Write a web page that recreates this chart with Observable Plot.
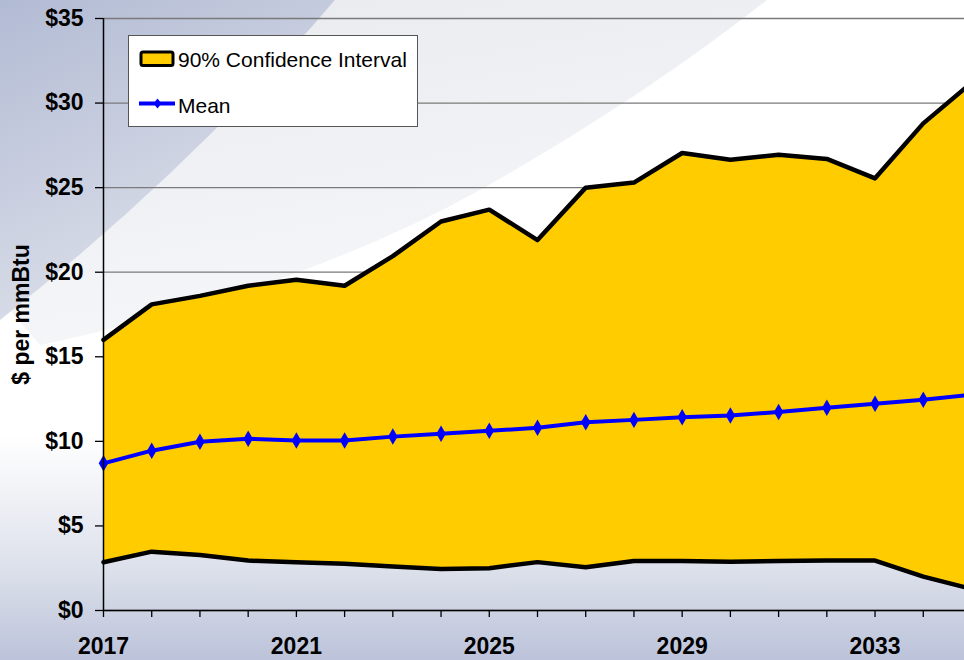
<!DOCTYPE html>
<html>
<head>
<meta charset="utf-8">
<script src="https://cdn.jsdelivr.net/npm/d3@7"></script>
<script src="https://cdn.jsdelivr.net/npm/@observablehq/plot@0.6"></script>
<style>
  html, body { margin: 0; padding: 0; overflow: hidden; background: #fff; }
  #wrap { position: relative; width: 964px; height: 660px; overflow: hidden; font-family: "Liberation Sans", Arial, sans-serif; }
  #bg, #legend { position: absolute; left: 0; top: 0; }
  #chart { position: absolute; left: 0; top: 0; }
  #chart svg { overflow: hidden; }
</style>
</head>
<body>
<div id="wrap">
  <svg id="bg" width="964" height="660">
    <defs>
      <linearGradient id="base" x1="0" y1="0" x2="0" y2="1">
        <stop offset="0" stop-color="#ffffff"/>
        <stop offset="0.66" stop-color="#ffffff"/>
        <stop offset="0.86" stop-color="#dde1eb"/>
        <stop offset="1" stop-color="#bcc3da"/>
      </linearGradient>
      <linearGradient id="tl" x1="0" y1="0" x2="0.5" y2="1">
        <stop offset="0" stop-color="#b2bbd4"/>
        <stop offset="1" stop-color="#dfe2eb"/>
      </linearGradient>
      <linearGradient id="sw" x1="0" y1="0" x2="0.4" y2="1">
        <stop offset="0" stop-color="#e8eaee"/>
        <stop offset="1" stop-color="#f6f7f9"/>
      </linearGradient>
    </defs>
    <rect width="964" height="660" fill="url(#base)"/>
    <path d="M335,0 L767,0 Q640,100 480,190 Q300,290 40,345 L10,310 Q190,170 335,0 Z" fill="url(#sw)"/>
    <path d="M0,0 L335,0 Q190,170 0,320 Z" fill="url(#tl)"/>
  </svg>
  <div id="chart"></div>
  <svg id="legend" width="964" height="660" style="pointer-events:none">
    <rect x="128.5" y="35.5" width="289" height="91" fill="#fff" stroke="#555" stroke-width="1"/>
    <rect x="141" y="52" width="32" height="13.5" rx="2" fill="#FFCC00" stroke="#000" stroke-width="3"/>
    <text x="178" y="67" font-size="21" font-family="Liberation Sans, Arial, sans-serif" fill="#000">90% Confidence Interval</text>
    <line x1="139" y1="103.5" x2="175" y2="103.5" stroke="#0000FF" stroke-width="4"/>
    <path d="M157.5,98.5 L161.5,103.5 L157.5,108.5 L153.5,103.5 Z" fill="#0000FF"/>
    <text x="178" y="112.5" font-size="21" font-family="Liberation Sans, Arial, sans-serif" fill="#000">Mean</text>
  </svg>
</div>
<script>
const years = [2017, 2018, 2019, 2020, 2021, 2022, 2023, 2024, 2025, 2026, 2027, 2028, 2029, 2030, 2031, 2032, 2033, 2034, 2035];
const upper = [16.0, 18.1, 18.6, 19.2, 19.55, 19.2, 20.95, 23.0, 23.7, 21.9, 25.0, 25.3, 27.05, 26.65, 26.95, 26.7, 25.55, 28.8, 31.2];
const mean  = [8.7, 9.45, 9.98, 10.15, 10.05, 10.05, 10.28, 10.45, 10.62, 10.8, 11.13, 11.27, 11.42, 11.53, 11.74, 11.98, 12.22, 12.46, 12.75];
const lower = [2.85, 3.48, 3.28, 2.95, 2.85, 2.76, 2.6, 2.45, 2.5, 2.86, 2.56, 2.93, 2.92, 2.88, 2.92, 2.95, 2.95, 2.0, 1.28];
const yTicks = [0, 5, 10, 15, 20, 25, 30, 35];
const xLabels = [2017, 2021, 2025, 2029, 2033];
const yLabel = ["$ per mmBtu"];

const data = years.map((year, i) => ({year, upper: upper[i], mean: mean[i], lower: lower[i]}));
const font = "Liberation Sans, Arial, sans-serif";

const chart = Plot.plot({
  width: 964,
  height: 660,
  marginLeft: 103,
  marginRight: 0,
  marginTop: 18,
  marginBottom: 50,
  style: {background: "transparent", fontFamily: font, color: "black", overflow: "hidden"},
  x: {type: "linear", domain: [2017, 2035], range: [103, 971]},
  y: {domain: [0, 35], range: [610, 18]},
  marks: [
    Plot.gridY(yTicks, {stroke: "#7a7a7a", strokeOpacity: 1, strokeWidth: 1.3}),
    Plot.areaY(data, {x: "year", y1: "lower", y2: "upper", fill: "#FFCC00"}),
    Plot.lineY(data, {x: "year", y: "upper", stroke: "black", strokeWidth: 4.5}),
    Plot.lineY(data, {x: "year", y: "lower", stroke: "black", strokeWidth: 4.5}),
    Plot.lineY(data, {x: "year", y: "mean", stroke: "#0000FF", strokeWidth: 4}),
    Plot.dot(data, {x: "year", y: "mean", symbol: "diamond", fill: "#0000FF", stroke: "none", r: 5}),
    Plot.ruleY([0], {stroke: "black", strokeWidth: 1.5}),
    Plot.ruleX([2017], {stroke: "black", strokeWidth: 1.5}),
    Plot.axisY(yTicks, {
      tickSize: 8, tickPadding: 12, tickFormat: d => "$" + d,
      fontSize: 23, fontWeight: "bold", label: null, strokeWidth: 1.3
    }),
    Plot.axisX(years, {
      tickSize: 7, tickPadding: 20,
      tickFormat: d => xLabels.includes(d) ? String(d) : "",
      fontSize: 23, fontWeight: "bold", label: null, strokeWidth: 1.3
    }),
    Plot.text(yLabel, {
      text: d => d, frameAnchor: "left", dx: -82, rotate: -90,
      textAnchor: "middle", lineAnchor: "middle",
      fontSize: 23, fontWeight: "bold", fill: "black"
    })
  ]
});
document.getElementById("chart").appendChild(chart);
</script>
</body>
</html>
